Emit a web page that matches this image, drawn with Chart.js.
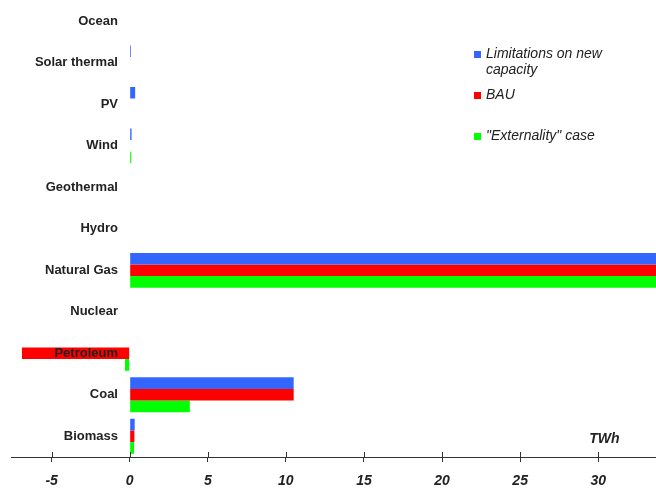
<!DOCTYPE html>
<html>
<head>
<meta charset="utf-8">
<script src="https://cdn.jsdelivr.net/npm/chart.js@4/dist/chart.umd.min.js"></script>
<style>
  html, body { margin: 0; padding: 0; background: #fff; }
  #wrap { width: 656px; height: 489px; }
</style>
</head>
<body>
<div id="wrap"><canvas id="myChart" width="656" height="489"></canvas></div>
<script>
// Data
const sources = ["Ocean", "Solar thermal", "PV", "Wind", "Geothermal", "Hydro",
  "Natural Gas", "Nuclear", "Petroleum", "Coal", "Biomass"];
const limitedCap = [0, 0.08, 0.35, 0.12, 0, 0, 35, 0, 0, 10.5, 0.32];
const bau = [0, 0, 0, 0, 0, 0, 35, 0, -6.9, 10.5, 0.3];
const externality = [0, 0, 0, 0.1, 0, 0, 35, 0, -0.3, 3.85, 0.28];
const xTicks = [-5, 0, 5, 10, 15, 20, 25, 30];

const blue = '#3366ff';
const red = '#ff0000';
const green = '#00ff00';
const ink = '#222';

// up half of the tick marks, across the axis line, plus TWh label
const axisExtras = {
  id: 'axis_extras',
  afterDraw: (chart) => {
    const ctx = chart.ctx;
    const x = chart.scales.x;
    const yLine = chart.chartArea.bottom;
    ctx.save();
    ctx.strokeStyle = '#333';
    ctx.lineWidth = 1;
    x.ticks.forEach(t => {
      const px = Math.round(x.getPixelForValue(t.value)) + 0.5;
      ctx.beginPath();
      ctx.moveTo(px, yLine - 5);
      ctx.lineTo(px, yLine);
      ctx.stroke();
    });
    ctx.fillStyle = ink;
    ctx.font = 'italic bold 14px "Liberation Sans", Arial, sans-serif';
    ctx.textAlign = 'center';
    ctx.textBaseline = 'middle';
    ctx.fillText('TWh', x.getPixelForValue(30.4), yLine - 18);
    ctx.restore();
  }
};

// legend drawn by hand so the first label can wrap
const legendItems = [
  { color: blue, lines: ['Limitations on new', 'capacity'], y: 54 },
  { color: red, lines: ['BAU'], y: 95 },
  { color: green, lines: ['"Externality" case'], y: 136 }
];
const sideLegend = {
  id: 'side_legend',
  afterDraw: (chart) => {
    const ctx = chart.ctx;
    ctx.save();
    ctx.font = 'italic 14px "Liberation Sans", Arial, sans-serif';
    ctx.textBaseline = 'middle';
    ctx.textAlign = 'left';
    legendItems.forEach(item => {
      ctx.fillStyle = item.color;
      ctx.fillRect(474, item.y - 3, 7, 7);
      ctx.fillStyle = ink;
      item.lines.forEach((ln, i) => ctx.fillText(ln, 486, item.y + i * 16));
    });
    ctx.restore();
  }
};

var ctx = document.getElementById('myChart').getContext('2d');
var chart = new Chart(ctx, {
  type: 'bar',
  data: {
    labels: sources,
    datasets: [
      { label: 'Limitations on new capacity', data: limitedCap, backgroundColor: blue },
      { label: 'BAU', data: bau, backgroundColor: red },
      { label: '"Externality" case', data: externality, backgroundColor: green }
    ]
  },
  plugins: [axisExtras, sideLegend],
  options: {
    indexAxis: 'y',
    responsive: false,
    animation: false,
    layout: { padding: { left: 11, right: 0, top: 0, bottom: 0 } },
    datasets: {
      bar: { barPercentage: 1, categoryPercentage: 0.84, borderWidth: 0 }
    },
    plugins: {
      legend: { display: false },
      tooltip: { enabled: false }
    },
    scales: {
      x: {
        min: -7.6,
        max: 33.7,
        afterBuildTicks: (axis) => { axis.ticks = xTicks.map(v => ({ value: v })); },
        afterFit: (axis) => { axis.height = 32; },
        grid: { drawOnChartArea: false, drawTicks: true, tickLength: 5, color: '#333' },
        border: { display: true, color: '#333', width: 1 },
        ticks: {
          color: ink,
          padding: 12,
          font: { family: '"Liberation Sans", Arial, sans-serif', size: 14, style: 'italic', weight: 'bold', lineHeight: 1 }
        }
      },
      y: {
        // labels sit just left of the zero line
        position: { x: -0.75 },
        z: 1,
        grid: { display: false },
        border: { display: false },
        ticks: {
          z: 1,
          color: ink,
          padding: 0,
          font: { family: '"Liberation Sans", Arial, sans-serif', size: 13, weight: 'bold', lineHeight: 0.1 }
        }
      }
    }
  }
});
</script>
</body>
</html>
